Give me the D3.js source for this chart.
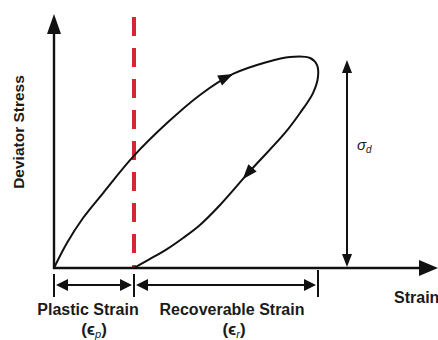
<!DOCTYPE html>
<html>
<head>
<meta charset="utf-8">
<script src="https://cdn.jsdelivr.net/npm/d3@7"></script>
<style>
  html, body { margin: 0; padding: 0; background: #fff; }
  svg { display: block; }
  text { font-family: "Liberation Sans", Arial, sans-serif; fill: #1a1a1a; }
</style>
</head>
<body>
<svg id="chart" width="438" height="340"></svg>
<script>
// Loading branch of the stress–strain loop (strain normalised to total strain,
// stress normalised to the deviator stress amplitude)
const loadingStrain = [0, 0.049, 0.110, 0.186, 0.299, 0.428, 0.553, 0.678, 0.807, 0.894, 0.97, 0.996, 1.0];
const loadingStress = [0, 0.119, 0.238, 0.357, 0.529, 0.690, 0.824, 0.924, 0.981, 1.005, 1.0, 0.967, 0.91];

// Unloading branch, from the peak back to zero stress
const unloadingStrain = [1.0, 0.981, 0.932, 0.875, 0.746, 0.629, 0.553, 0.489, 0.428, 0.364, 0.303];
const unloadingStress = [0.91, 0.833, 0.738, 0.643, 0.467, 0.30, 0.205, 0.143, 0.09, 0.043, 0];

const plasticStrain = 0.303;   // permanent strain left after unloading
const totalStrain = 1.0;       // plastic + recoverable
const peakStress = 1.0;        // deviator stress amplitude
const strainAxisMax = 1.4545;
const stressAxisMax = 1.21;
const dashedLineTop = 1.195;

// strain positions at which the direction arrows sit on each branch
const loadingArrowAt = 0.678;
const unloadingArrowAt = 0.715;

const axisTitles = ["Deviator Stress", "Strain"];
const spanLabels = ["Plastic Strain", "Recoverable Strain"];
const spanSymbols = ["p", "r"];

const svg = d3.select("#chart");
const x = d3.scaleLinear().domain([0, 1]).range([54, 318]);
const y = d3.scaleLinear().domain([0, 1]).range([268, 58]);
const ink = "#111";

function arrowHead(g, tipX, tipY, angle, len, half) {
  const c = Math.cos(angle), s = Math.sin(angle);
  const bx = tipX - c * len, by = tipY - s * len;
  const pts = [[tipX, tipY], [bx - s * half, by + c * half], [bx + s * half, by - c * half]];
  g.append("path").attr("d", "M" + pts.map(p => p.join(",")).join("L") + "Z").attr("fill", ink);
}

// red dashed divider at the plastic strain
svg.append("line")
  .attr("x1", x(plasticStrain)).attr("x2", x(plasticStrain))
  .attr("y1", y(dashedLineTop)).attr("y2", y(0))
  .attr("stroke", "#d7262f").attr("stroke-width", 4)
  .attr("stroke-dasharray", "19 12");

// axes
const axes = svg.append("g");
axes.append("line").attr("x1", x(0)).attr("x2", x(0))
  .attr("y1", y(0) + 1).attr("y2", y(stressAxisMax) + 16)
  .attr("stroke", ink).attr("stroke-width", 2.4);
arrowHead(axes, x(0), y(stressAxisMax), -Math.PI / 2, 20, 7);
axes.append("line").attr("x1", x(0) - 1).attr("x2", x(strainAxisMax) - 16)
  .attr("y1", y(0)).attr("y2", y(0))
  .attr("stroke", ink).attr("stroke-width", 2.4);
arrowHead(axes, x(strainAxisMax), y(0), 0, 19, 8);

// the loop is drawn as one smooth path: loading then unloading
const line = d3.line().x(d => x(d[0])).y(d => y(d[1])).curve(d3.curveCatmullRom.alpha(0.5));
const loading = d3.zip(loadingStrain, loadingStress);
const unloading = d3.zip(unloadingStrain, unloadingStress);
const loop = loading.concat(unloading.slice(1));

const loopPath = svg.append("path").attr("d", line(loop))
  .attr("fill", "none").attr("stroke", ink).attr("stroke-width", 2);
const node = loopPath.node(), total = node.getTotalLength();
const turnLen = (() => {
  // length along the path at the rightmost point, where loading turns into unloading
  let best = 0, bx = -Infinity;
  for (let l = 0; l <= total; l += 0.5) {
    const p = node.getPointAtLength(l);
    if (p.x > bx) { bx = p.x; best = l; }
  }
  return best;
})();

function arrowOn(from, to, strain) {
  let best = from, bestD = Infinity;
  for (let l = from; l <= to; l += 0.5) {
    const d = Math.abs(node.getPointAtLength(l).x - x(strain));
    if (d < bestD) { bestD = d; best = l; }
  }
  const a = node.getPointAtLength(best - 2), b = node.getPointAtLength(best + 2);
  const tip = node.getPointAtLength(best);
  arrowHead(svg, tip.x, tip.y, Math.atan2(b.y - a.y, b.x - a.x), 15, 5.5);
}
arrowOn(0, turnLen, loadingArrowAt);
arrowOn(turnLen, total, unloadingArrowAt);

// deviator stress amplitude arrow
const sdX = 347;
svg.append("line").attr("x1", sdX).attr("x2", sdX)
  .attr("y1", y(peakStress) + 8).attr("y2", y(0) - 8)
  .attr("stroke", ink).attr("stroke-width", 2);
arrowHead(svg, sdX, y(peakStress) + 2, -Math.PI / 2, 13, 5);
arrowHead(svg, sdX, y(0) - 1, Math.PI / 2, 13, 5);
const sd = svg.append("text").attr("x", 357).attr("y", 150)
  .style("font-size", "15px").style("font-style", "italic");
sd.append("tspan").text("σ");
sd.append("tspan").attr("dy", 3).style("font-size", "10px").text("d");

// strain span dimension lines
const spans = [[0, plasticStrain], [plasticStrain, totalStrain]];
const labelShift = [-6, 6];
const symbolShift = [0, 8];
const dimY = 285;
[0, plasticStrain, totalStrain].forEach(v => {
  svg.append("line").attr("x1", x(v)).attr("x2", x(v))
    .attr("y1", v === totalStrain ? 270 : 274).attr("y2", 297)
    .attr("stroke", ink).attr("stroke-width", 2);
});
spans.forEach(([a, b], i) => {
  const x0 = x(a) + 2, x1 = x(b) - 2;
  svg.append("line").attr("x1", x0 + 8).attr("x2", x1 - 8)
    .attr("y1", dimY).attr("y2", dimY)
    .attr("stroke", ink).attr("stroke-width", 2);
  arrowHead(svg, x0, dimY, Math.PI, 12, 6);
  arrowHead(svg, x1, dimY, 0, 12, 6);

  const cx = (x(a) + x(b)) / 2;
  svg.append("text").attr("x", cx + labelShift[i]).attr("y", 315)
    .attr("text-anchor", "middle")
    .style("font-size", "16px").style("font-weight", "bold")
    .text(spanLabels[i]);
  const sym = svg.append("text").attr("x", cx + symbolShift[i]).attr("y", 335)
    .attr("text-anchor", "middle").style("font-size", "17px").style("font-weight", "bold");
  sym.append("tspan").text("(");
  sym.append("tspan").text("ϵ");
  sym.append("tspan").attr("dy", 3).style("font-size", "11px")
    .style("font-style", "italic").style("font-weight", "normal").text(spanSymbols[i]);
  sym.append("tspan").attr("dy", -3).text(")");
});

// axis titles
svg.append("text")
  .attr("transform", "translate(24,132) rotate(-90)")
  .attr("text-anchor", "middle")
  .style("font-size", "15.5px").style("font-weight", "bold")
  .text(axisTitles[0]);
svg.append("text").attr("x", 394).attr("y", 303)
  .style("font-size", "16px").style("font-weight", "bold")
  .text(axisTitles[1]);
</script>
</body>
</html>
